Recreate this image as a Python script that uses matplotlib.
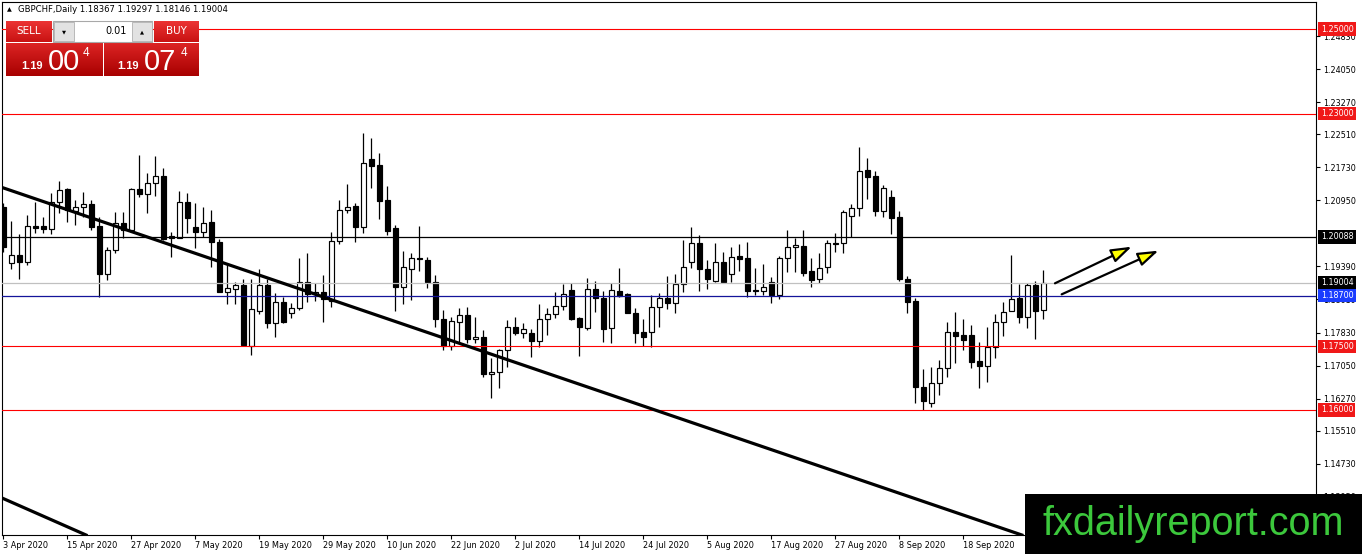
import matplotlib
matplotlib.use("Agg")
import matplotlib.pyplot as plt
import matplotlib.transforms as mtransforms
from matplotlib.patches import Rectangle, FancyArrowPatch
from matplotlib.colors import LinearSegmentedColormap
import numpy as np
import pandas as pd

# ---------------- data ----------------
symbol = "GBPCHF"
timeframe = "Daily"
start_date = "2020-04-03"

opens = [1.20795, 1.19465, 1.19654, 1.19488, 1.20339, 1.20339, 1.20268, 1.20906, 1.21213, 1.20707,
         1.20802, 1.20866, 1.20346, 1.19205, 1.19779, 1.20424, 1.20251, 1.21213, 1.21102, 1.21355,
         1.21527, 1.20110, 1.20069, 1.20906, 1.20315, 1.20211, 1.20440, 1.19961, 1.18794, 1.18850,
         1.18945, 1.17518, 1.18345, 1.18945, 1.18061, 1.18543, 1.18283, 1.18402, 1.19030, 1.18739,
         1.18780, 1.18574, 1.19991, 1.20724, 1.20818, 1.20315, 1.21922, 1.21787, 1.20960, 1.20291,
         1.18912, 1.19323, 1.19597, 1.19543, 1.19016, 1.18142, 1.17512, 1.18085, 1.18236, 1.17669,
         1.17731, 1.16842, 1.16904, 1.17417, 1.17953, 1.17811, 1.17811, 1.17636, 1.18142, 1.18260,
         1.18456, 1.18834, 1.18165, 1.17944, 1.18850, 1.18638, 1.17944, 1.18817, 1.18739, 1.18283,
         1.17834, 1.17834, 1.18439, 1.18638, 1.18534, 1.18969, 1.19488, 1.19937, 1.19323, 1.19054,
         1.19488, 1.19205, 1.19637, 1.19590, 1.18827, 1.18817, 1.19016, 1.18723, 1.19583, 1.19843,
         1.19873, 1.19283, 1.19087, 1.19370, 1.19944, 1.19937, 1.20589, 1.20764, 1.21669, 1.21527,
         1.20707, 1.21024, 1.20551, 1.19087, 1.18566, 1.16535, 1.16157, 1.16630, 1.16984, 1.17849,
         1.17771, 1.17771, 1.17157, 1.17046, 1.17495, 1.18085, 1.18345, 1.18638, 1.18192, 1.18952,
         1.18367]
highs = [1.20889, 1.20464, 1.20157, 1.20606, 1.20920, 1.20566, 1.21132, 1.21409, 1.21236, 1.20960,
         1.21149, 1.20960, 1.20566, 1.19843, 1.20684, 1.20684, 1.21236, 1.22023, 1.21591, 1.22000,
         1.21709, 1.20211, 1.21180, 1.21132, 1.20896, 1.20802, 1.20724, 1.20032, 1.19448, 1.19030,
         1.19087, 1.19087, 1.19323, 1.19087, 1.18756, 1.18676, 1.18520, 1.19583, 1.19701, 1.18992,
         1.19188, 1.20211, 1.20960, 1.21338, 1.20882, 1.22550, 1.22418, 1.22063, 1.21291, 1.20369,
         1.19762, 1.19701, 1.20346, 1.19621, 1.19188, 1.18361, 1.18203, 1.18402, 1.18425, 1.18203,
         1.17889, 1.17220, 1.17434, 1.18125, 1.18203, 1.18047, 1.17905, 1.18503, 1.18402, 1.18794,
         1.18976, 1.18999, 1.18188, 1.19110, 1.19047, 1.18817, 1.18999, 1.19347, 1.18756, 1.18402,
         1.18142, 1.18716, 1.18770, 1.19165, 1.19212, 1.20015, 1.20315, 1.20133, 1.19543, 1.19937,
         1.19739, 1.19843, 1.19913, 1.19961, 1.19347, 1.19441, 1.19148, 1.19637, 1.20251, 1.20055,
         1.20251, 1.19583, 1.19701, 1.20015, 1.20173, 1.20724, 1.20866, 1.22219, 1.21945, 1.21652,
         1.21314, 1.21196, 1.20700, 1.19165, 1.18638, 1.16960, 1.17022, 1.17180, 1.18085, 1.18307,
         1.18142, 1.17999, 1.17606, 1.17953, 1.18267, 1.18543, 1.19661, 1.18976, 1.18999, 1.19047,
         1.19297]
lows = [1.19732, 1.19323, 1.19087, 1.19424, 1.20173, 1.20188, 1.20157, 1.20646, 1.20447, 1.20369,
        1.20566, 1.20251, 1.18661, 1.19070, 1.19701, 1.20055, 1.20211, 1.21038, 1.20660, 1.21043,
        1.20015, 1.19606, 1.20055, 1.20188, 1.19833, 1.20093, 1.19384, 1.18780, 1.18496, 1.18496,
        1.17518, 1.17298, 1.18267, 1.17929, 1.17716, 1.18061, 1.18165, 1.18361, 1.18550, 1.18581,
        1.18085, 1.18425, 1.19921, 1.20660, 1.19975, 1.20173, 1.21236, 1.20504, 1.20133, 1.18345,
        1.18496, 1.18598, 1.19290, 1.18874, 1.17967, 1.17417, 1.17417, 1.17613, 1.17589, 1.17575,
        1.16786, 1.16275, 1.16526, 1.17022, 1.17771, 1.17693, 1.17244, 1.17481, 1.17771, 1.18165,
        1.18361, 1.18125, 1.17275, 1.17889, 1.18321, 1.17613, 1.17575, 1.18676, 1.18283, 1.17575,
        1.17512, 1.17495, 1.17953, 1.18378, 1.18283, 1.18794, 1.19347, 1.18817, 1.18850, 1.19030,
        1.18999, 1.19030, 1.19290, 1.18676, 1.18716, 1.18716, 1.18534, 1.18621, 1.19266, 1.19266,
        1.19165, 1.18898, 1.18999, 1.19243, 1.19739, 1.19715, 1.20079, 1.20582, 1.20977, 1.20582,
        1.20551, 1.20150, 1.19054, 1.18283, 1.16157, 1.15990, 1.16077, 1.16353, 1.16771, 1.17102,
        1.17417, 1.16984, 1.16512, 1.16668, 1.17220, 1.17754, 1.18330, 1.18061, 1.17939, 1.17688,
        1.18146]
closes = [1.19850, 1.19654, 1.19488, 1.20339, 1.20306, 1.20282, 1.20906, 1.21196, 1.20724, 1.20802,
          1.20866, 1.20329, 1.19205, 1.19779, 1.20410, 1.20251, 1.21213, 1.21095, 1.21355, 1.21527,
          1.20039, 1.20074, 1.20906, 1.20528, 1.20211, 1.20410, 1.19961, 1.18794, 1.18874, 1.18945,
          1.17542, 1.18378, 1.18945, 1.18061, 1.18543, 1.18085, 1.18402, 1.19030, 1.18739, 1.18794,
          1.18614, 1.19991, 1.20724, 1.20788, 1.20315, 1.21827, 1.21770, 1.20943, 1.20235, 1.18912,
          1.19384, 1.19597, 1.19559, 1.19016, 1.18142, 1.17512, 1.18109, 1.18236, 1.17669, 1.17724,
          1.16849, 1.16904, 1.17417, 1.17953, 1.17811, 1.17905, 1.17636, 1.18149, 1.18260, 1.18456,
          1.18739, 1.18149, 1.17953, 1.18850, 1.18652, 1.17906, 1.18834, 1.18692, 1.18298, 1.17823,
          1.17716, 1.18439, 1.18638, 1.18534, 1.18969, 1.19384, 1.19937, 1.19323, 1.19087, 1.19488,
          1.19016, 1.19621, 1.19559, 1.18817, 1.18803, 1.18898, 1.18723, 1.19590, 1.19843, 1.19890,
          1.19243, 1.19070, 1.19347, 1.19937, 1.19921, 1.20669, 1.20764, 1.21652, 1.21510, 1.20707,
          1.21236, 1.20542, 1.19087, 1.18557, 1.16535, 1.16219, 1.16630, 1.16984, 1.17849, 1.17754,
          1.17653, 1.17140, 1.17046, 1.17495, 1.18071, 1.18326, 1.18614, 1.18203, 1.18952, 1.18334,
          1.19004]

red_levels = [1.25000, 1.23000, 1.17500, 1.16000]
black_level = 1.20088
blue_level = 1.18700
bid = 1.19004
ask = 1.19074
lot_size = "0.01"

# scale labels visible in the reference (1.20170 is fully hidden behind the 1.20088 label)
price_ticks = [1.24830, 1.24050, 1.23270, 1.22510, 1.21730, 1.20950, 1.19390,
               1.18610, 1.17830, 1.17050, 1.16270, 1.15510, 1.14730, 1.13950]
date_step = 8

# trend lines: (bar index, price) anchors
trend_main = [(-0.075, 1.21251), (126.59, 1.13093)]
trend_lower = [(-0.16, 1.13920), (10.34, 1.13046)]
# arrows: start -> end (bar index, price)
arrow_1 = [(131.46, 1.18992), (141.05, 1.19857)]
arrow_2 = [(132.30, 1.18732), (144.40, 1.19763)]

watermark = "fxdailyreport.com"

# ---------------- figure ----------------
plt.rcParams['font.family'] = ['DejaVu Sans']
W, H = 1362, 554
fig = plt.figure(figsize=(W / 100, H / 100), dpi=100, facecolor='white')

ax_l, ax_r, ax_t, ax_b = 2, 1316, 2, 535
ax = fig.add_axes([ax_l / W, 1 - ax_b / H, (ax_r - ax_l) / W, (ax_b - ax_t) / H])
ax.set_facecolor('white')

o = np.array(opens); h = np.array(highs); l = np.array(lows); c = np.array(closes)
n = len(o)
x = np.arange(n)
dates = pd.bdate_range(start_date, periods=n)

ax.set_xlim(-0.1625, 164.09)
ax.set_ylim(1.13046, 1.25638)

# candles
up = c >= o
ax.vlines(x, l, h, color='black', lw=0.9, zorder=2)
ax.bar(x, np.abs(c - o), bottom=np.minimum(o, c), width=0.56,
       color=np.where(up, 'white', 'black'), edgecolor='black', linewidth=0.85, zorder=3)

# horizontal levels
for lv in red_levels:
    ax.axhline(lv, color='#ff0000', lw=0.8, zorder=4)
ax.axhline(black_level, color='black', lw=0.9, zorder=4)
ax.axhline(bid, color='#c0c0c0', lw=0.9, zorder=4)
ax.axhline(blue_level, color='#14149a', lw=0.9, zorder=4)

# trend lines
ax.axline(trend_main[0], trend_main[1], color='black', lw=2.3, zorder=5)
ax.axline(trend_lower[0], trend_lower[1], color='black', lw=2.3, zorder=5)

# arrows
for a in (arrow_1, arrow_2):
    arr = FancyArrowPatch(a[0], a[1], arrowstyle='-|>,head_length=1.25,head_width=0.42',
                          mutation_scale=10, lw=1.6, fc='#ffff00', ec='black',
                          shrinkA=0, shrinkB=0, zorder=6)
    ax.add_patch(arr)

# axes / ticks
for sp in ax.spines.values():
    sp.set_color('black')
    sp.set_linewidth(0.8)
ax.yaxis.tick_right()
ax.set_yticks(price_ticks)
ax.set_yticklabels([f"{v:.5f}" for v in price_ticks])
ax.tick_params(axis='y', length=3, width=0.8, pad=2.5, labelsize=5.8, colors='black')

tick_idx = list(range(0, n, date_step))
ax.set_xticks(tick_idx)
ax.set_xticklabels([f"{dates[i].day} {dates[i]:%b %Y}" for i in tick_idx])
for lab in ax.get_xticklabels():
    lab.set_horizontalalignment('left')
ax.tick_params(axis='x', length=3, width=0.8, pad=1.5, labelsize=5.9, colors='black')

# coloured price labels on the right scale
blend = mtransforms.blended_transform_factory(ax.transAxes, ax.transData)
lab_x = 1.0036
def price_label(v, bg):
    ax.text(lab_x, v, f"{v:.5f}", transform=blend, color='white', fontsize=5.8,
            va='center', ha='left', clip_on=False, zorder=20,
            bbox=dict(boxstyle='square,pad=0.28', fc=bg, ec='none'))
for lv in red_levels:
    price_label(lv, '#f01818')
price_label(black_level, 'black')
price_label(bid, 'black')
price_label(blue_level, '#1a3cff')

# ---------------- header / trading panel ----------------
def fx(px):
    return px / W
def fy(py):
    return 1 - py / H

fig.text(fx(7), fy(10), "\u25B2", fontsize=4.5, va='center', ha='left', color='black')
fig.text(fx(18), fy(10), f"{symbol},{timeframe} {o[-1]:.5f} {h[-1]:.5f} {l[-1]:.5f} {c[-1]:.5f}",
         fontsize=6.1, va='center', ha='left', color='black')

def grad_box(x0, y0, x1, y1, c_top, c_bot):
    a = fig.add_axes([fx(x0), fy(y1), (x1 - x0) / W, (y1 - y0) / H])
    cmap = LinearSegmentedColormap.from_list('g', [c_top, c_bot])
    a.imshow(np.linspace(0, 1, 64)[:, None], aspect='auto', cmap=cmap,
             extent=[0, 1, 0, 1], origin='upper')
    a.set_axis_off()
    return a

grad_box(6, 21, 52, 42, '#ec3434', '#c81212')
grad_box(154, 21, 199, 42, '#ec3434', '#c81212')
grad_box(6, 43, 102, 76, '#dc2424', '#a80000')
grad_box(104, 43, 199, 76, '#dc2424', '#a80000')

# lot box
fig.add_artist(Rectangle((fx(53), fy(42)), 99 / W, 21 / H, transform=fig.transFigure,
                         fc='white', ec='#a8a8a8', lw=0.8, zorder=3))
for bx in (54, 132):
    fig.add_artist(Rectangle((fx(bx), fy(41)), 20 / W, 19 / H, transform=fig.transFigure,
                             fc='#e2e2e2', ec='#b0b0b0', lw=0.6, zorder=4))
fig.text(fx(64), fy(31.5), "\u25BC", fontsize=3.8, ha='center', va='center', color='black', zorder=5)
fig.text(fx(142), fy(31.5), "\u25B2", fontsize=3.8, ha='center', va='center', color='black', zorder=5)
fig.text(fx(127), fy(31.5), lot_size, fontsize=7, ha='right', va='center', color='black', zorder=5)

fig.text(fx(29), fy(31.5), "SELL", fontsize=7.5, ha='center', va='center', color='white', zorder=5)
fig.text(fx(176.5), fy(31.5), "BUY", fontsize=7.5, ha='center', va='center', color='white', zorder=5)

def big_price(val, x_small, x_big, x_sup):
    s = f"{val:.5f}"
    fig.text(fx(x_small), fy(69), s[:4], fontsize=8, fontweight='bold', family='Liberation Sans',
             ha='left', va='baseline', color='white', zorder=5)
    fig.text(fx(x_big), fy(70), s[4:6], fontsize=21, family='Liberation Sans',
             ha='left', va='baseline', color='white', zorder=5)
    fig.text(fx(x_sup), fy(55.5), s[6], fontsize=8.5, family='Liberation Sans',
             ha='left', va='baseline', color='white', zorder=5)

big_price(bid, 21, 48, 83)
big_price(ask, 117, 144, 181)

# ---------------- watermark ----------------
fig.add_artist(Rectangle((fx(1025), 0), (W - 1025) / W, 60 / H, transform=fig.transFigure,
                         fc='black', ec='none', zorder=10))
fig.text(fx(1193), fy(535), watermark, fontsize=28.5, family='Liberation Sans',
         color='#3cc83c', ha='center', va='baseline', zorder=11)

fig.savefig("out.png", dpi=100, facecolor='white')
